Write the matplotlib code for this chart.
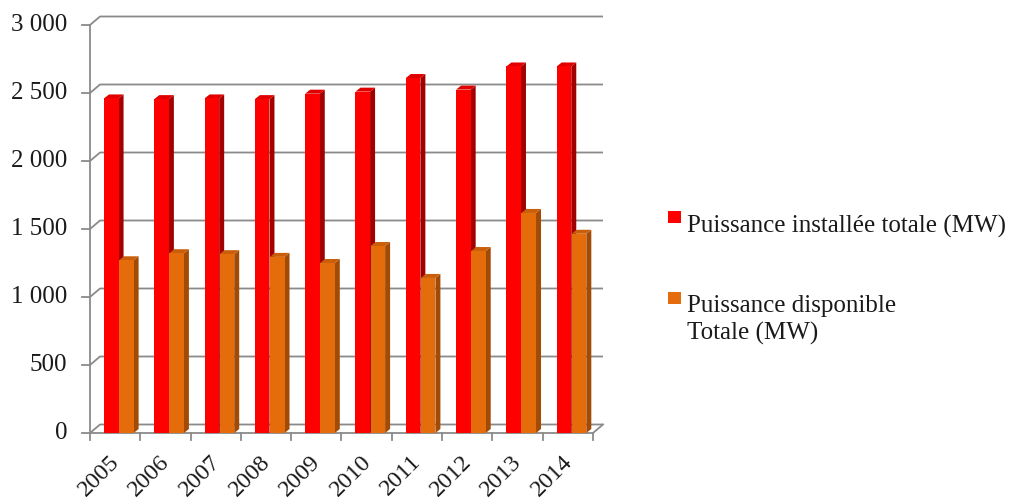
import matplotlib
matplotlib.use("Agg")
import matplotlib.pyplot as plt
from matplotlib.patches import Polygon, Rectangle

# ---- data ----
years = ["2005", "2006", "2007", "2008", "2009", "2010", "2011", "2012", "2013", "2014"]
installed = [2460, 2455, 2460, 2455, 2495, 2510, 2610, 2525, 2695, 2695]
available = [1270, 1322, 1315, 1295, 1250, 1375, 1140, 1338, 1618, 1465]
yticks = [0, 500, 1000, 1500, 2000, 2500, 3000]
ytick_labels = ["0", "500", "1 000", "1 500", "2 000", "2 500", "3 000"]
series_names = ["Puissance installée totale (MW)", "Puissance disponible\nTotale (MW)"]

plt.rcParams['font.family'] = ['Liberation Serif', 'DejaVu Serif']

W_PX, H_PX = 1011, 500
fig = plt.figure(figsize=(W_PX / 100, H_PX / 100), dpi=100)

PXC = 50.3      # pixels per category
PXV = 0.136     # pixels per value unit
XMAX, YMAX = 10.5, 3100
ax = fig.add_axes([90 / W_PX, (H_PX - 433) / H_PX, XMAX * PXC / W_PX, YMAX * PXV / H_PX])
ax.set_xlim(0, XMAX)
ax.set_ylim(0, YMAX)
ax.axis('off')

n = len(years)
gcol = '#8a8a8a'
glw = 1.3
bdx, bdy = 10 / PXC, 8.5 / PXV   # back-wall offset

# back wall gridlines with left diagonal
for v in yticks:
    ax.plot([0, bdx, n + bdx], [v, v + bdy, v + bdy], color=gcol, lw=glw, zorder=1,
            solid_capstyle='butt', clip_on=False)
    ax.plot([-8 / PXC, 0], [v, v], color=gcol, lw=glw, zorder=1, clip_on=False)
# front axis and floor
ax.plot([0, 0], [0, yticks[-1]], color=gcol, lw=glw, zorder=1, clip_on=False)
ax.plot([0, n, n + bdx], [0, 0, bdy], color=gcol, lw=glw, zorder=1, clip_on=False)
for i in range(n + 1):
    ax.plot([i, i], [0, -7 / PXV], color=gcol, lw=glw, zorder=1, clip_on=False)

# bars
ddx, ddy = 5 / PXC, 4 / PXV
styles = [
    dict(front='#ff0000', side='#a30000', top='#e00000', off=0.278),
    dict(front='#e46c0a', side='#a24b06', top='#c95f0a', off=0.577),
]
bw = 0.29
for vals, st in zip([installed, available], styles):
    for i, h in enumerate(vals):
        x0 = i + st['off']
        x1 = x0 + bw
        ax.add_patch(Polygon([(x1, 0), (x1 + ddx, ddy), (x1 + ddx, h + ddy), (x1, h)],
                             closed=True, facecolor=st['side'], edgecolor='none', zorder=3))
        ax.add_patch(Polygon([(x0, h), (x0 + ddx, h + ddy), (x1 + ddx, h + ddy), (x1, h)],
                             closed=True, facecolor=st['top'], edgecolor='none', zorder=3))
        ax.add_patch(Rectangle((x0, 0), bw, h, facecolor=st['front'], edgecolor='none', zorder=4))

# tick labels
for v, lab in zip(yticks, ytick_labels):
    ax.text(-23 / PXC, v, lab, ha='right', va='center', fontsize=18, color='#1a1a1a')
for i, y in enumerate(years):
    ax.annotate(y, xy=(i + 0.55, 0), xytext=(-1, -18.5), textcoords='offset points',
                rotation=45, rotation_mode='anchor', ha='right', va='center',
                fontsize=17.5, color='#1a1a1a')

# legend
leg_items = [
    (styles[0]['front'], series_names[0], 211, 233),
    (styles[1]['front'], series_names[1], 292, 312),
]
for col, name, ytop, base in leg_items:
    fig.patches.append(Rectangle((668 / W_PX, 1 - (ytop + 12) / H_PX), 13 / W_PX, 12 / H_PX,
                                 transform=fig.transFigure, facecolor=col, edgecolor='none'))
    lines = name.split("\n")
    for k, ln in enumerate(lines):
        fig.text(687 / W_PX, 1 - (base + 28 * k) / H_PX, ln, ha='left', va='baseline',
                 fontsize=18, color='#1a1a1a')

fig.savefig('out.png', dpi=100)
